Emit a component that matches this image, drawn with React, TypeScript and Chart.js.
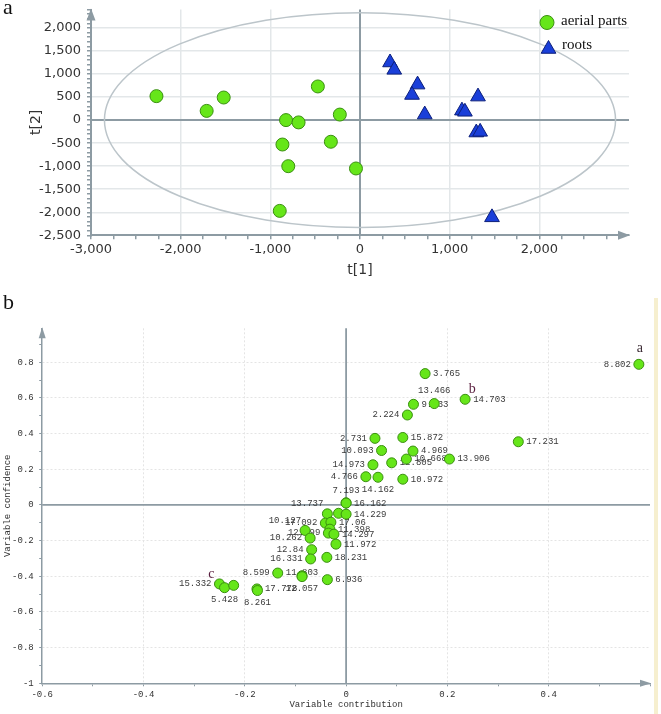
import React, { useEffect, useRef } from 'react';
import { Chart, registerables } from 'chart.js';

Chart.register(...registerables);

// ---------- Panel a: PCA score plot ----------
const AERIAL_T1 = [-2270, -1520, -1710, -470, -225, -825, -685, -865, -325, -800, -45, -895];
const AERIAL_T2 = [520, 490, 200, 730, 120, 0, -50, -530, -470, -1000, -1050, -1970];
const ROOTS_T1 = [335, 382, 642, 580, 722, 1316, 1137, 1170, 1297, 1340, 1472];
const ROOTS_T2 = [1250, 1090, 770, 545, 120, 510, 205, 180, -270, -255, -2110];
const ELLIPSE_T1 = 2850;
const ELLIPSE_T2 = 2330;
const LEGEND_NAMES = ['aerial parts', 'roots'];

// ---------- Panel b: variable contribution / confidence ----------
const VAR_LABELS = [
  '8.802', '3.765', '14.703', '13.466', '9.533', '2.224', '2.731', '15.872', '17.231', '10.093',
  '4.969', '12.805', '10.668', '13.906', '14.973', '4.766', '14.162', '10.972', '7.193', '16.162',
  '13.737', '', '14.229', '17.092', '17.06', '10.127', '11.398', '12.499', '14.297', '10.262',
  '11.972', '12.84', '16.331', '18.231', '8.599', '11.803', '12.057', '6.936', '15.332', '5.428',
  '', '17.778', '8.261',
];
const VAR_CONTRIB = [
  0.578, 0.156, 0.235, 0.174, 0.133, 0.121, 0.057, 0.112, 0.340, 0.070,
  0.132, 0.090, 0.119, 0.204, 0.053, 0.039, 0.063, 0.112, 0.000, 0.000,
  -0.037, -0.015, 0.000, -0.041, -0.030, -0.081, -0.032, -0.035, -0.024, -0.071,
  -0.020, -0.068, -0.070, -0.038, -0.135, -0.087, -0.087, -0.037, -0.250, -0.240,
  -0.222, -0.176, -0.175,
];
const VAR_CONFID = [
  0.788, 0.736, 0.592, 0.568, 0.564, 0.504, 0.373, 0.378, 0.354, 0.305,
  0.302, 0.236, 0.257, 0.257, 0.225, 0.158, 0.155, 0.144, 0.012, 0.010,
  -0.050, -0.047, -0.052, -0.102, -0.097, -0.143, -0.136, -0.158, -0.164, -0.186,
  -0.220, -0.251, -0.303, -0.294, -0.382, -0.397, -0.402, -0.419, -0.443, -0.464,
  -0.451, -0.471, -0.480,
];
// label placement relative to its point (style only)
const LABEL_SIDE = [
  'l', 'r', 'r', 't', 'r', 'l', 'l', 'r', 'r', 'l',
  'r', 'r', 'r', 'r', 'l', 'l', 'b', 'r', 't', 'r',
  'tl', '', 'r', 'l', 'r', 'tl', 'r', 'l', 'r', 'l',
  'r', 'l', 'l', 'r', 'l', 'c', 'b', 'r', 'l', 'b',
  '', 'r', 'b',
];
const MARK_TEXT = ['a', 'b', 'c'];
const MARK_TARGET = ['8.802', '14.703', '15.332'];

const AXIS_GREY = '#8d9ba3';
const GREEN = '#66e619';
const GREEN_EDGE = '#3a8f10';
const BLUE = '#1a3fd9';
const BLUE_EDGE = '#0c1f7a';

const arrowPlugin = (len: number, half: number) => ({
  id: 'axisArrows',
  afterDraw(chart: any) {
    const { ctx, chartArea } = chart;
    const { left, right, top, bottom } = chartArea;
    ctx.save();
    ctx.fillStyle = AXIS_GREY;
    ctx.beginPath();
    ctx.moveTo(left, top - 1);
    ctx.lineTo(left - half, top + len);
    ctx.lineTo(left + half, top + len);
    ctx.closePath();
    ctx.fill();
    ctx.beginPath();
    ctx.moveTo(right + 1, bottom);
    ctx.lineTo(right - len, bottom - half);
    ctx.lineTo(right - len, bottom + half);
    ctx.closePath();
    ctx.fill();
    ctx.restore();
  },
});

const zeroLinesPlugin = (width: number) => ({
  id: 'zeroLines',
  beforeDatasetsDraw(chart: any) {
    const { ctx, chartArea, scales } = chart;
    const x0 = scales.x.getPixelForValue(0);
    const y0 = scales.y.getPixelForValue(0);
    ctx.save();
    ctx.strokeStyle = AXIS_GREY;
    ctx.lineWidth = width;
    ctx.beginPath();
    ctx.moveTo(x0, chartArea.top);
    ctx.lineTo(x0, chartArea.bottom);
    ctx.moveTo(chartArea.left, y0);
    ctx.lineTo(chartArea.right, y0);
    ctx.stroke();
    ctx.restore();
  },
});

const ellipsePlugin = {
  id: 'ellipse',
  beforeDatasetsDraw(chart: any) {
    const { ctx, scales } = chart;
    const cx = scales.x.getPixelForValue(0);
    const cy = scales.y.getPixelForValue(0);
    const rx = scales.x.getPixelForValue(ELLIPSE_T1) - cx;
    const ry = cy - scales.y.getPixelForValue(ELLIPSE_T2);
    ctx.save();
    ctx.strokeStyle = '#bcc5ca';
    ctx.lineWidth = 1.5;
    ctx.beginPath();
    ctx.ellipse(cx, cy, rx, ry, 0, 0, Math.PI * 2);
    ctx.stroke();
    ctx.restore();
  },
};

const legendPlugin = {
  id: 'innerLegend',
  afterDraw(chart: any) {
    const { ctx } = chart;
    ctx.save();
    ctx.fillStyle = GREEN;
    ctx.strokeStyle = GREEN_EDGE;
    ctx.lineWidth = 1;
    ctx.beginPath();
    ctx.arc(547, 22.5, 7, 0, Math.PI * 2);
    ctx.fill();
    ctx.stroke();
    ctx.fillStyle = BLUE;
    ctx.strokeStyle = BLUE_EDGE;
    const r = 8.5;
    ctx.beginPath();
    ctx.moveTo(548.5, 49 - r);
    ctx.lineTo(548.5 + r * 0.866, 49 + r / 2);
    ctx.lineTo(548.5 - r * 0.866, 49 + r / 2);
    ctx.closePath();
    ctx.fill();
    ctx.stroke();
    ctx.fillStyle = '#111';
    ctx.font = '15px "Liberation Serif"';
    ctx.textBaseline = 'middle';
    ctx.textAlign = 'left';
    ctx.fillText(LEGEND_NAMES[0], 561, 21.5);
    ctx.fillText(LEGEND_NAMES[1], 562, 45.5);
    ctx.restore();
  },
};

const varLabelPlugin = {
  id: 'varLabels',
  beforeDatasetsDraw(chart: any) {
    const { ctx } = chart;
    const meta = chart.getDatasetMeta(0);
    ctx.save();
    ctx.font = '9px "Liberation Mono"';
    ctx.fillStyle = '#3a3a3a';
    ctx.textBaseline = 'middle';
    meta.data.forEach((pt: any, i: number) => {
      const text = VAR_LABELS[i];
      const side = LABEL_SIDE[i];
      if (!text) return;
      let x = pt.x;
      let y = pt.y;
      let align = 'left';
      if (side === 'r') { x += 8; align = 'left'; }
      else if (side === 'l') { x -= 8; align = 'right'; }
      else if (side === 't') { y -= 12.5; align = 'center'; }
      else if (side === 'b') { y += 12; align = 'center'; }
      else if (side === 'tl') { x -= 4; y -= 10; align = 'right'; }
      else if (side === 'c') { y -= 3; align = 'center'; }
      ctx.textAlign = align;
      ctx.fillText(text, x, y);
    });
    ctx.restore();
  },
  afterDatasetsDraw(chart: any) {
    const { ctx } = chart;
    const meta = chart.getDatasetMeta(0);
    const offs = [[1, -16, '#3a2a33'], [7, -10, '#5a1f3f'], [-8, -10, '#5a1f3f']];
    ctx.save();
    ctx.font = '14px "Liberation Serif"';
    ctx.textAlign = 'center';
    ctx.textBaseline = 'middle';
    MARK_TEXT.forEach((t, k) => {
      const idx = VAR_LABELS.indexOf(MARK_TARGET[k]);
      const pt = meta.data[idx];
      if (!pt) return;
      ctx.fillStyle = offs[k][2] as string;
      ctx.fillText(t, pt.x + (offs[k][0] as number), pt.y + (offs[k][1] as number));
    });
    ctx.restore();
  },
};

export default function App() {
  const refA = useRef<HTMLCanvasElement>(null);
  const refB = useRef<HTMLCanvasElement>(null);

  useEffect(() => {
    const tickFontA = { family: 'DejaVu Sans', size: 13 };
    const chartA = new Chart(refA.current as HTMLCanvasElement, {
      type: 'scatter',
      data: {
        datasets: [
          {
            label: LEGEND_NAMES[0],
            data: AERIAL_T1.map((x, i) => ({ x, y: AERIAL_T2[i] })),
            pointStyle: 'circle',
            pointRadius: 6.5,
            backgroundColor: GREEN,
            borderColor: GREEN_EDGE,
            borderWidth: 1,
          },
          {
            label: LEGEND_NAMES[1],
            data: ROOTS_T1.map((x, i) => ({ x, y: ROOTS_T2[i] })),
            pointStyle: 'triangle',
            pointRadius: 8.5,
            backgroundColor: BLUE,
            borderColor: BLUE_EDGE,
            borderWidth: 1,
          },
        ],
      },
      options: {
        responsive: false,
        animation: false,
        events: [],
        layout: { padding: { left: 0, top: 5.5, right: 32, bottom: 0 } },
        plugins: { legend: { display: false }, tooltip: { enabled: false } },
        scales: {
          x: {
            type: 'linear',
            min: -3000,
            max: 3000,
            afterFit: (s: any) => { s.height = 296 - 235.3; s.paddingLeft = 0; s.paddingRight = 0; },
            ticks: {
              stepSize: 250,
              maxTicksLimit: 200,
              autoSkip: false,
              includeBounds: false,
              maxRotation: 0,
              padding: 3,
              color: '#333',
              font: tickFontA,
              callback: (v: any) => (v % 1000 === 0 && v < 2900 ? Number(v).toLocaleString('en-US') : ''),
            },
            grid: {
              color: (c: any) => (c.tick && c.tick.value % 1000 === 0 && c.tick.value !== 0 && Math.abs(c.tick.value) < 2900 ? '#e3e7e9' : 'rgba(0,0,0,0)'),
              tickColor: (c: any) => (c.tick && c.tick.value >= 2900 ? 'rgba(0,0,0,0)' : AXIS_GREY),
              tickLength: 4,
              lineWidth: 1.5,
            },
            border: { color: AXIS_GREY, width: 2 },
            title: { display: true, text: 't[1]', color: '#333', font: { family: 'DejaVu Sans', size: 14 }, padding: { top: 0, bottom: 17.6 } },
          },
          y: {
            type: 'linear',
            min: -2500,
            max: 2400,
            afterFit: (s: any) => { s.width = 91; s.paddingTop = 0; s.paddingBottom = 0; },
            ticks: {
              stepSize: 100,
              maxTicksLimit: 200,
              autoSkip: false,
              includeBounds: false,
              padding: 6,
              color: '#333',
              font: tickFontA,
              callback: (v: any) => (v % 500 === 0 ? Number(v).toLocaleString('en-US') : ''),
            },
            grid: {
              color: (c: any) => (c.tick && c.tick.value % 500 === 0 && c.tick.value !== 0 && c.tick.value !== -2500 ? '#e3e7e9' : 'rgba(0,0,0,0)'),
              tickColor: AXIS_GREY,
              tickLength: 4,
              lineWidth: 1.5,
            },
            border: { color: AXIS_GREY, width: 2 },
            title: { display: true, text: 't[2]', color: '#333', font: { family: 'DejaVu Sans', size: 14 }, padding: { top: 28, bottom: 0 } },
          },
        },
      } as any,
      plugins: [zeroLinesPlugin(2), ellipsePlugin, arrowPlugin(11, 4.5), legendPlugin],
    });

    const tickFontB = { family: 'Liberation Mono', size: 9 };
    const isMajor = (v: number) => Math.abs(Math.round(v * 10)) % 2 === 0;
    const chartB = new Chart(refB.current as HTMLCanvasElement, {
      type: 'scatter',
      data: {
        datasets: [
          {
            label: 'variables',
            data: VAR_CONTRIB.map((x, i) => ({ x, y: VAR_CONFID[i] })),
            pointStyle: 'circle',
            pointRadius: 5,
            backgroundColor: GREEN,
            borderColor: GREEN_EDGE,
            borderWidth: 1,
          },
        ],
      },
      options: {
        responsive: false,
        animation: false,
        events: [],
        layout: { padding: { left: 0, top: 32.3, right: 11, bottom: 0 } },
        plugins: { legend: { display: false }, tooltip: { enabled: false } },
        scales: {
          x: {
            type: 'linear',
            min: -0.6,
            max: 0.6,
            afterFit: (s: any) => { s.height = 418 - 387.3; s.paddingLeft = 0; s.paddingRight = 0; },
            ticks: {
              stepSize: 0.1,
              maxTicksLimit: 200,
              autoSkip: false,
              includeBounds: false,
              maxRotation: 0,
              padding: 3,
              color: '#333',
              font: tickFontB,
              callback: (v: any) => (isMajor(v) && v < 0.55 ? String(Math.round(v * 10) / 10) : ''),
            },
            grid: {
              color: (c: any) => (c.tick && isMajor(c.tick.value) && Math.abs(c.tick.value) > 0.01 && Math.abs(c.tick.value) < 0.55 ? '#e4e4e4' : 'rgba(0,0,0,0)'),
              tickColor: AXIS_GREY,
              tickLength: 3,
            },
            border: { color: AXIS_GREY, width: 1.5, dash: [2, 2] },
            title: { display: true, text: 'Variable contribution', color: '#333', font: { family: 'Liberation Mono', size: 9 }, padding: { top: 0, bottom: 3.6 } },
          },
          y: {
            type: 'linear',
            min: -1,
            max: 0.99,
            afterFit: (s: any) => { s.width = 42.2; s.paddingTop = 0; s.paddingBottom = 0; },
            ticks: {
              stepSize: 0.1,
              maxTicksLimit: 200,
              autoSkip: false,
              includeBounds: false,
              padding: 5.5,
              color: '#333',
              font: tickFontB,
              callback: (v: any) => (isMajor(v) ? String(Math.round(v * 10) / 10) : ''),
            },
            grid: {
              color: (c: any) => (c.tick && isMajor(c.tick.value) && Math.abs(c.tick.value) > 0.01 && c.tick.value > -0.95 ? '#e4e4e4' : 'rgba(0,0,0,0)'),
              tickColor: AXIS_GREY,
              tickLength: 3,
            },
            border: { color: AXIS_GREY, width: 1.5, dash: [2, 2] },
            title: { display: true, text: 'Variable confidence', color: '#333', font: { family: 'Liberation Mono', size: 9 }, padding: { top: 2, bottom: 0 } },
          },
        },
      } as any,
      plugins: [zeroLinesPlugin(1.8), varLabelPlugin, arrowPlugin(10, 3.5)],
    });

    return () => {
      chartA.destroy();
      chartB.destroy();
    };
  }, []);

  return (
    <div style={{ position: 'absolute', left: 0, top: 0, width: 661, height: 714, background: '#ffffff', overflow: 'hidden' }}>
      <canvas ref={refA} width={661} height={296} style={{ position: 'absolute', left: 0, top: 0, display: 'block' }} />
      <canvas ref={refB} width={661} height={418} style={{ position: 'absolute', left: 0, top: 296, display: 'block' }} />
      <div style={{ position: 'absolute', left: 3, top: -4, font: '22px "Liberation Serif"', lineHeight: '22px', color: '#111' }}>a</div>
      <div style={{ position: 'absolute', left: 3, top: 291, font: '22px "Liberation Serif"', lineHeight: '22px', color: '#111' }}>b</div>
      <div style={{ position: 'absolute', left: 654, top: 298, width: 4, height: 416, background: '#f6efcf' }} />
    </div>
  );
}
